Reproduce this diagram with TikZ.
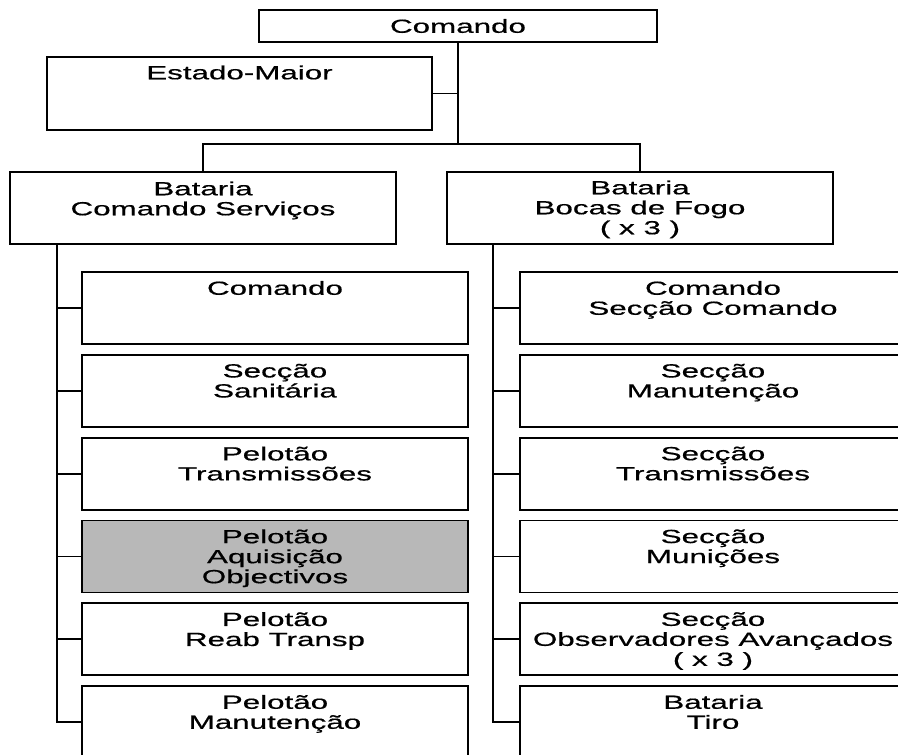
\documentclass[tikz,border=0pt]{standalone}
\usepackage{fontspec}
\setmainfont{Liberation Sans}[FakeStretch=1.65,FakeBold=0.6]
\usetikzlibrary{positioning}

\begin{document}
\begin{tikzpicture}[x=1pt,y=-1pt,
  font=\fontsize{19}{20}\selectfont,line width=1.8pt,
  unit/.style={draw,anchor=north west,inner sep=0pt,outer sep=0pt,
    minimum width=386pt,minimum height=72pt},
  hq/.style={unit,minimum width=398pt,minimum height=32pt},
  staff/.style={unit,minimum width=385pt,minimum height=73pt},
  shaded/.style={fill=black!28},
  lbl/.style={inner sep=0pt,outer sep=0pt,align=center}]
  \path[use as bounding box,clip] (0,0) rectangle (898,755);
  %%
  \node[hq] (cmd) at (259,10) {Comando};
  \node[staff] (em) at (47,57) {};
  \node[lbl,below=8.5pt of em.north] (emt) {Estado-Maior};
  \node[unit] (bcs) at (10,172) {};
  \node[lbl,below=9.5pt of bcs.north] (bcst) {Bataria\\Comando Serviços};
  \node[unit] (bbf) at (447,172) {};
  \node[lbl,below=8.5pt of bbf.north] (bbft) {Bataria\\Bocas de Fogo\\( x 3 )};
  %%
  \node[unit] (l1) at (82,272) {};
  \node[unit] (l2) at (82,354.8) {};
  \node[unit] (l3) at (82,437.6) {};
  \node[unit,shaded] (l4) at (82,520.4) {};
  \node[unit] (l5) at (82,603.2) {};
  \node[unit] (l6) at (82,686) {};
  \node[lbl,below=9pt of l1.north] (l1t) {Comando};
  \node[lbl,below=9pt of l2.north] (l2t) {Secção\\Sanitária};
  \node[lbl,below=9pt of l3.north] (l3t) {Pelotão\\Transmissões};
  \node[lbl,below=9pt of l4.north] (l4t) {Pelotão\\Aquisição\\Objectivos};
  \node[lbl,below=9pt of l5.north] (l5t) {Pelotão\\Reab Transp};
  \node[lbl,below=9pt of l6.north] (l6t) {Pelotão\\Manutenção};
  %%
  \node[unit] (r1) at (520,272) {};
  \node[unit] (r2) at (520,354.8) {};
  \node[unit] (r3) at (520,437.6) {};
  \node[unit] (r4) at (520,520.4) {};
  \node[unit] (r5) at (520,603.2) {};
  \node[unit] (r6) at (520,686) {};
  \node[lbl,below=9pt of r1.north] (r1t) {Comando\\Secção Comando};
  \node[lbl,below=9pt of r2.north] (r2t) {Secção\\Manutenção};
  \node[lbl,below=9pt of r3.north] (r3t) {Secção\\Transmissões};
  \node[lbl,below=9pt of r4.north] (r4t) {Secção\\Munições};
  \node[lbl,below=9pt of r5.north] (r5t) {Secção\\Observadores Avançados\\( x 3 )};
  \node[lbl,below=9pt of r6.north] (r6t) {Bataria\\Tiro};
  %%
  \coordinate (split) at (458,144);
  \coordinate (lsp) at (57,243);
  \coordinate (rsp) at (493,243);
  \draw (cmd.south) -- (split);
  \draw (em.east) -- (em.east -| split);
  \draw (bcs.north) |- (split) -| (bbf.north);
  \foreach \i in {1,...,6}{
    \draw (lsp) |- (l\i.west);
    \draw (rsp) |- (r\i.west);
  }
\end{tikzpicture}
\end{document}
